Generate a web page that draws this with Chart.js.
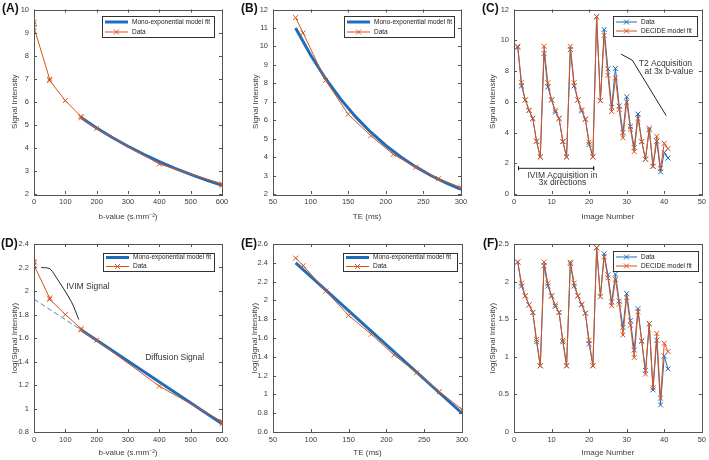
<!DOCTYPE html>
<html>
<head>
<meta charset="utf-8">
<script src="https://cdn.jsdelivr.net/npm/chart.js@4.4.1/dist/chart.umd.min.js"></script>
<style>
  body { margin: 0; background: #fff; width: 709px; height: 460px; position: relative; overflow: hidden; }
  canvas { position: absolute; }
  .lab { position: absolute; font: bold 12px "Liberation Sans", Arial, sans-serif; color: #111; }
</style>
</head>
<body>
<canvas id="chartA" width="236" height="230" style="left:0;top:0"></canvas>
<canvas id="chartB" width="240" height="230" style="left:236px;top:0"></canvas>
<canvas id="chartC" width="233" height="230" style="left:476px;top:0"></canvas>
<canvas id="chartD" width="236" height="232" style="left:0;top:228px"></canvas>
<canvas id="chartE" width="240" height="232" style="left:236px;top:228px"></canvas>
<canvas id="chartF" width="233" height="232" style="left:476px;top:228px"></canvas>
<div class="lab" style="left:2px;top:1px">(A)</div>
<div class="lab" style="left:241px;top:1px">(B)</div>
<div class="lab" style="left:482px;top:1px">(C)</div>
<div class="lab" style="left:1px;top:236px">(D)</div>
<div class="lab" style="left:241px;top:236px">(E)</div>
<div class="lab" style="left:483px;top:236px">(F)</div>
<script>
// --- IVIM: signal vs b-value ---
const bValue = [0, 0, 0, 50, 50, 100, 150, 150, 200, 400, 600, 600];
const signalVsB = [9.45, 9.36, 9.22, 6.98, 6.92, 6.05, 5.36, 5.31, 4.84, 3.30, 2.44, 2.38];
const logSignalVsB = [2.25, 2.24, 2.22, 1.94, 1.93, 1.80, 1.68, 1.67, 1.58, 1.19, 0.89, 0.87];
const fitB = [150, 200, 250, 300, 350, 400, 450, 500, 550, 600];
const fitSignalVsB = [5.32, 4.86, 4.45, 4.07, 3.72, 3.40, 3.11, 2.85, 2.60, 2.38];
const logFitB = [150, 600];
const logFitVsB = [1.67, 0.87];
const extrapB = [0, 150];
const extrapLogVsB = [1.93, 1.67];

// --- T2: signal vs TE ---
const te = [80, 90, 120, 150, 180, 210, 240, 270, 300];
const signalVsTE = [11.56, 10.73, 8.16, 6.32, 5.16, 4.15, 3.45, 2.83, 2.35];
const logSignalVsTE = [2.45, 2.37, 2.10, 1.84, 1.64, 1.42, 1.23, 1.03, 0.84];
const fitTE = [80, 100, 120, 140, 160, 180, 200, 220, 240, 260, 280, 300];
const fitSignalVsTE = [11.0, 9.53, 8.25, 7.14, 6.18, 5.35, 4.63, 4.01, 3.47, 3.00, 2.60, 2.25];
const logFitTE = [80, 300];
const logFitVsTE = [2.40, 0.80];

// --- DECIDE: all images ---
const imageNumber = [1, 2, 3, 4, 5, 6, 7, 8, 9, 10, 11, 12, 13, 14, 15, 16, 17, 18, 19, 20,
  21, 22, 23, 24, 25, 26, 27, 28, 29, 30, 31, 32, 33, 34, 35, 36, 37, 38, 39, 40, 41];
const decideData = [9.55, 7.03, 6.12, 5.44, 4.91, 3.43, 2.41, 9.14, 6.96, 6.12, 5.33, 4.91, 3.41, 2.41,
  9.40, 7.03, 6.12, 5.40, 4.87, 3.22, 2.41, 11.53, 6.07, 10.70, 8.14, 5.65, 8.17, 5.72, 4.00, 6.32,
  4.40, 3.02, 5.20, 3.41, 2.26, 4.17, 1.80, 3.43, 1.44, 2.70, 2.34];
const decideFit = [9.60, 7.24, 6.12, 5.44, 4.91, 3.43, 2.41, 9.61, 7.24, 6.12, 5.44, 4.91, 3.41, 2.41,
  9.61, 7.24, 6.12, 5.48, 4.87, 3.37, 2.41, 11.53, 6.07, 10.31, 7.72, 5.37, 7.55, 5.49, 3.66, 5.97,
  4.22, 2.76, 4.91, 3.42, 2.26, 4.28, 1.80, 3.75, 1.65, 3.30, 2.95];
const logDecideData = [2.26, 1.94, 1.81, 1.69, 1.59, 1.20, 0.88, 2.21, 1.94, 1.81, 1.67, 1.59, 1.20, 0.88,
  2.24, 1.94, 1.81, 1.69, 1.58, 1.17, 0.88, 2.45, 1.80, 2.37, 2.09, 1.73, 2.10, 1.74, 1.39, 1.84,
  1.48, 1.09, 1.64, 1.21, 0.82, 1.44, 0.56, 1.22, 0.36, 1.01, 0.84];
const logDecideFit = [2.26, 1.98, 1.81, 1.69, 1.59, 1.23, 0.88, 2.26, 1.98, 1.81, 1.69, 1.59, 1.22, 0.88,
  2.26, 1.98, 1.81, 1.70, 1.58, 1.22, 0.88, 2.45, 1.80, 2.33, 2.05, 1.68, 2.03, 1.70, 1.29, 1.79,
  1.42, 0.99, 1.60, 1.21, 0.77, 1.44, 0.59, 1.31, 0.45, 1.18, 1.07];

// annotation lines (data coordinates)
const bracketX = [1.2, 1.2, 1.2, 21.2, 21.2, 21.2];
const bracketY = [1.80, 1.55, 1.67, 1.67, 1.80, 1.55];
const t2PointerX = [28.5, 31.5, 40.5];
const t2PointerY = [9.10, 8.70, 5.10];
const ivimPointerB = [23, 50, 66, 119, 143];
const ivimPointerLog = [2.20, 2.19, 2.136, 1.91, 1.757];

const BLUE = '#1f6cbb';
const ORANGE = '#D95319';
const FONT = '"Liberation Sans", Arial, sans-serif';

const pts = (xs, ys) => xs.map((x, i) => ({ x, y: ys[i] }));

function fitLine(label, xs, ys) {
  return { label, data: pts(xs, ys), borderColor: BLUE, borderWidth: 3, pointRadius: 0, order: 1 };
}
function markedLine(label, xs, ys, color, order) {
  return {
    label, data: pts(xs, ys), borderColor: color, borderWidth: 1,
    pointStyle: 'crossRot', pointRadius: 3.5, pointBorderWidth: 1,
    pointBorderColor: color, pointBackgroundColor: color, order
  };
}
function noteLine(xs, ys, extra) {
  return Object.assign({ data: pts(xs, ys), borderColor: '#222', borderWidth: 1, pointRadius: 0, order: 2 }, extra);
}

// box with inward ticks on all four sides
const matlabAxes = {
  id: 'matlabAxes',
  afterDatasetsDraw(chart) {
    const { ctx, chartArea: a, scales } = chart;
    ctx.save();
    ctx.strokeStyle = '#555';
    ctx.lineWidth = 1;
    ctx.beginPath();
    scales.x.ticks.forEach(t => {
      const p = Math.round(scales.x.getPixelForValue(t.value)) + 0.5;
      ctx.moveTo(p, a.bottom); ctx.lineTo(p, a.bottom - 3);
      ctx.moveTo(p, a.top); ctx.lineTo(p, a.top + 3);
    });
    scales.y.ticks.forEach(t => {
      const p = Math.round(scales.y.getPixelForValue(t.value)) + 0.5;
      ctx.moveTo(a.left, p); ctx.lineTo(a.left + 3, p);
      ctx.moveTo(a.right, p); ctx.lineTo(a.right - 3, p);
    });
    ctx.stroke();
    ctx.strokeRect(Math.round(a.left) + 0.5, Math.round(a.top) + 0.5,
      Math.round(a.right - a.left), Math.round(a.bottom - a.top));
    ctx.restore();
  }
};

function makeLegend(L) {
  return {
    id: 'boxLegend',
    afterDraw(chart) {
      const { ctx, chartArea: a } = chart;
      const items = chart.data.datasets.filter(d => d.label);
      const x0 = Math.round(a.right - L.right - L.width);
      const y0 = Math.round(a.top + L.top);
      ctx.save();
      ctx.fillStyle = '#fff';
      ctx.fillRect(x0, y0, L.width, L.height);
      ctx.strokeStyle = '#333';
      ctx.lineWidth = 1;
      ctx.strokeRect(x0 + 0.5, y0 + 0.5, L.width, L.height);
      items.forEach((d, i) => {
        const y = y0 + L.rowTop + i * L.rowGap;
        const sx = x0 + 3;
        ctx.strokeStyle = d.borderColor;
        ctx.lineWidth = d.borderWidth;
        ctx.beginPath();
        ctx.moveTo(sx, y); ctx.lineTo(sx + L.sample, y);
        if (d.pointRadius) {
          const cx = sx + L.sample / 2;
          ctx.moveTo(cx - 2.5, y - 2.5); ctx.lineTo(cx + 2.5, y + 2.5);
          ctx.moveTo(cx - 2.5, y + 2.5); ctx.lineTo(cx + 2.5, y - 2.5);
        }
        ctx.stroke();
        ctx.fillStyle = '#222';
        ctx.font = '6.5px ' + FONT;
        ctx.textBaseline = 'middle';
        ctx.fillText(d.label, sx + L.sample + 4, y);
      });
      ctx.restore();
    }
  };
}

function makeNotes(items) {
  return {
    id: 'notes',
    afterDraw(chart) {
      const { ctx, scales } = chart;
      ctx.save();
      ctx.fillStyle = '#333';
      ctx.font = '8.5px ' + FONT;
      ctx.textAlign = 'center';
      ctx.textBaseline = 'middle';
      items.forEach(n => ctx.fillText(n.text, scales.x.getPixelForValue(n.x), scales.y.getPixelForValue(n.y)));
      ctx.restore();
    }
  };
}

function axis(s, horizontal, size, titlePad) {
  return {
    type: 'linear',
    min: s.min,
    max: s.max,
    afterFit: sc => { if (horizontal) sc.height = size; else sc.width = size; },
    grid: { display: false, drawTicks: false },
    border: { display: false },
    ticks: {
      stepSize: s.step, autoSkip: false, maxRotation: 0,
      padding: horizontal ? 3 : 5,
      color: '#3c3c3c',
      font: { family: FONT, size: 7.5 },
      callback: v => String(+v.toFixed(2))
    },
    title: {
      display: true, text: s.title, color: '#3c3c3c',
      font: { family: FONT, size: 8 },
      padding: horizontal ? { top: 0, bottom: titlePad } : { top: titlePad, bottom: 0 }
    }
  };
}

function panel(id, p) {
  new Chart(document.getElementById(id), {
    type: 'line',
    data: { datasets: p.datasets },
    options: {
      responsive: false,
      animation: false,
      layout: { padding: p.pad },
      elements: { line: { tension: 0 } },
      plugins: { legend: { display: false }, tooltip: { enabled: false } },
      scales: {
        x: axis(p.x, true, p.xh, p.xt),
        y: axis(p.y, false, p.yw, p.yt)
      }
    },
    plugins: [matlabAxes, makeLegend(p.legend), makeNotes(p.notes || [])]
  });
}

const bAxis = { min: 0, max: 600, step: 100, title: 'b-value (s.mm\u207B\u00B2)' };
const teAxis = { min: 50, max: 300, step: 50, title: 'TE (ms)' };
const imgAxis = { min: 0, max: 50, step: 10, title: 'Image Number' };

panel('chartA', {
  pad: { top: 7, right: 14, left: 0, bottom: 0 }, yw: 34, xh: 36, yt: 10, xt: 8,
  x: bAxis, y: { min: 2, max: 10, step: 1, title: 'Signal Intensity' },
  legend: { right: 8, top: 6, width: 112, height: 21, rowTop: 6, rowGap: 10, sample: 23 },
  datasets: [
    fitLine('Mono-exponential model fit', fitB, fitSignalVsB),
    markedLine('Data', bValue, signalVsB, ORANGE, 0)
  ]
});

panel('chartB', {
  pad: { top: 7, right: 15, left: 0, bottom: 0 }, yw: 37, xh: 36, yt: 15, xt: 8,
  x: teAxis, y: { min: 2, max: 12, step: 1, title: 'Signal Intensity' },
  legend: { right: 7, top: 6, width: 110, height: 21, rowTop: 6, rowGap: 10, sample: 23 },
  datasets: [
    fitLine('Mono-exponential model fit', fitTE, fitSignalVsTE),
    markedLine('Data', te, signalVsTE, ORANGE, 0)
  ]
});

panel('chartC', {
  pad: { top: 7, right: 7, left: 0, bottom: 0 }, yw: 38, xh: 36, yt: 12, xt: 8,
  x: imgAxis, y: { min: 0, max: 12, step: 2, title: 'Signal Intensity' },
  legend: { right: 5, top: 6, width: 84, height: 20, rowTop: 6, rowGap: 9, sample: 21 },
  datasets: [
    markedLine('Data', imageNumber, decideData, BLUE, 1),
    markedLine('DECIDE model fit', imageNumber, decideFit, ORANGE, 0),
    noteLine(bracketX, bracketY),
    noteLine(t2PointerX, t2PointerY)
  ],
  notes: [
    { x: 12.9, y: 1.19, text: 'IVIM Acquisition in' },
    { x: 12.9, y: 0.72, text: '3x directions' },
    { x: 40.3, y: 8.50, text: 'T2 Acquisition' },
    { x: 41.2, y: 7.94, text: 'at 3x b-value' }
  ]
});

panel('chartD', {
  pad: { top: 16, right: 14, left: 0, bottom: 0 }, yw: 34, xh: 28, yt: 10, xt: 2,
  x: bAxis, y: { min: 0.8, max: 2.4, step: 0.2, title: 'log(Signal Intensity)' },
  legend: { right: 8, top: 9, width: 111, height: 18, rowTop: 4.5, rowGap: 9, sample: 23 },
  datasets: [
    fitLine('Mono-exponential model fit', logFitB, logFitVsB),
    markedLine('Data', bValue, logSignalVsB, ORANGE, 0),
    noteLine(extrapB, extrapLogVsB, { borderColor: '#4a86c8', borderDash: [5, 3] }),
    noteLine(ivimPointerB, ivimPointerLog, { tension: 0.3 })
  ],
  notes: [
    { x: 172, y: 2.036, text: 'IVIM Signal' },
    { x: 449, y: 1.43, text: 'Diffusion Signal' }
  ]
});

panel('chartE', {
  pad: { top: 16, right: 14, left: 0, bottom: 0 }, yw: 37, xh: 28, yt: 14, xt: 2,
  x: teAxis, y: { min: 0.6, max: 2.6, step: 0.2, title: 'log(Signal Intensity)' },
  legend: { right: 5, top: 9, width: 114, height: 18, rowTop: 4.5, rowGap: 9, sample: 23 },
  datasets: [
    fitLine('Mono-exponential model fit', logFitTE, logFitVsTE),
    markedLine('Data', te, logSignalVsTE, ORANGE, 0)
  ]
});

panel('chartF', {
  pad: { top: 16, right: 7, left: 0, bottom: 0 }, yw: 38, xh: 28, yt: 12, xt: 2,
  x: imgAxis, y: { min: 0, max: 2.5, step: 0.5, title: 'log(Signal Intensity)' },
  legend: { right: 4, top: 7, width: 85, height: 20, rowTop: 6, rowGap: 9, sample: 21 },
  datasets: [
    markedLine('Data', imageNumber, logDecideData, BLUE, 1),
    markedLine('DECIDE model fit', imageNumber, logDecideFit, ORANGE, 0)
  ]
});
</script>
</body>
</html>
